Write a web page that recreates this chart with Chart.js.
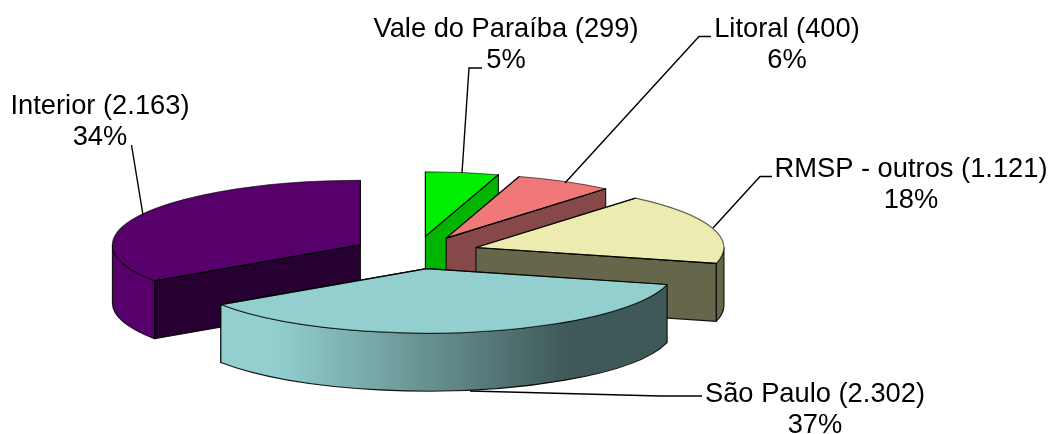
<!DOCTYPE html>
<html>
<head>
<meta charset="utf-8">
<style>html,body{margin:0;padding:0;background:#fff}#wrap{width:1049px;height:434px;position:relative}</style>
<script src="https://cdn.jsdelivr.net/npm/chart.js@4"></script>
</head>
<body>
<div id="wrap"><canvas id="c" width="1049" height="434"></canvas></div>
<script>
const categories = ['Vale do Paraíba', 'Litoral', 'RMSP - outros', 'São Paulo', 'Interior'];
const values = [299, 400, 1121, 2302, 2163];

const topColors = ['#00ee00', '#f07878', '#ecebb0', '#93cfcf', '#57006b'];
const sideColors = ['#00b400', '#864848', '#66664a', '#3f5858', '#260030'];
const rimColors = ['#00b400', '#864848', '#66664a', null, '#57006b'];
const drawOrder = [0, 1, 2, 4, 3];
const labelAnchors = [
  {x: 506, y: 37, gap: 31, leader: [[462,173],[469,68],[482,68]]},
  {x: 787, y: 37, gap: 31, leader: [[565,183],[699,36.5],[711,36.5]]},
  {x: 911, y: 177, gap: 31, leader: [[713,228],[760,176.5],[772,176.5]]},
  {x: 815, y: 402, gap: 31, leader: [[470,391],[660,396],[702,396]]},
  {x: 100, y: 114, gap: 31, leader: [[143,215],[131.5,145]]}
];
const squash = 0.26, depth = 58, explode = 63;

function drawSlice(ctx, i, arc) {
  const k = squash;
  const a0 = arc.startAngle, a1 = arc.endAngle, R = arc.outerRadius;
  const mid = (a0 + a1) / 2;
  const cx = arc.x + explode * Math.cos(mid);
  const cy = arc.y + explode * k * Math.sin(mid);
  const px = a => cx + R * Math.cos(a), py = a => cy + R * k * Math.sin(a);
  ctx.lineWidth = 1.1;
  ctx.lineJoin = 'round';
  const edge = 'rgba(0,0,0,0.9)', soft = 'rgba(0,0,0,0.6)';

  const cut = a => {
    ctx.beginPath();
    ctx.moveTo(cx, cy); ctx.lineTo(px(a), py(a));
    ctx.lineTo(px(a), py(a) + depth); ctx.lineTo(cx, cy + depth);
    ctx.closePath();
    ctx.fillStyle = sideColors[i]; ctx.fill();
    ctx.strokeStyle = edge; ctx.stroke();
  };
  const norm = a => (a % (2*Math.PI) + 2*Math.PI) % (2*Math.PI);
  if (Math.cos(a1) > 0.01) cut(a1);
  if (Math.cos(a0) < -0.01) cut(a0);
  if (Math.cos(a1) <= 0.01 && norm(a1) < Math.PI) cut(a1);

  const from = Math.max(a0, 0), to = Math.min(a1, Math.PI);
  if (a1 > 0 && a0 < Math.PI && to > from) {
    ctx.beginPath();
    ctx.ellipse(cx, cy, R, R*k, 0, from, to);
    ctx.ellipse(cx, cy + depth, R, R*k, 0, to, from, true);
    ctx.closePath();
    if (rimColors[i]) ctx.fillStyle = rimColors[i];
    else {
      const g = ctx.createLinearGradient(px(a1), 0, px(a0), 0);
      g.addColorStop(0, topColors[i]);
      g.addColorStop(0.12, topColors[i]);
      g.addColorStop(0.78, sideColors[i]);
      g.addColorStop(1, sideColors[i]);
      ctx.fillStyle = g;
    }
    ctx.fill();
    ctx.strokeStyle = edge; ctx.stroke();
  }

  ctx.beginPath();
  ctx.moveTo(cx, cy);
  ctx.ellipse(cx, cy, R, R*k, 0, a0, a1);
  ctx.closePath();
  ctx.fillStyle = topColors[i];
  ctx.fill();
  ctx.strokeStyle = soft; ctx.stroke();
  ctx.beginPath();
  ctx.moveTo(px(a0), py(a0)); ctx.lineTo(cx, cy); ctx.lineTo(px(a1), py(a1));
  ctx.strokeStyle = edge; ctx.stroke();
}

const pie3d = {
  id: 'pie3d',
  beforeDatasetsDraw(chart) {
    const ctx = chart.ctx, arcs = chart.getDatasetMeta(0).data;
    ctx.save();
    drawOrder.forEach(i => drawSlice(ctx, i, arcs[i]));
    ctx.restore();
    return false;
  },
  afterDraw(chart) {
    const ctx = chart.ctx;
    const total = values.reduce((s, v) => s + v, 0);
    ctx.save();
    labelAnchors.forEach((l, i) => {
      ctx.beginPath();
      l.leader.forEach((p, j) => j ? ctx.lineTo(p[0], p[1]) : ctx.moveTo(p[0], p[1]));
      ctx.strokeStyle = '#000'; ctx.lineWidth = 1.4; ctx.stroke();
      ctx.fillStyle = '#000';
      ctx.font = '27.3px "Liberation Sans", Arial, sans-serif';
      ctx.textAlign = 'center'; ctx.textBaseline = 'alphabetic';
      const num = String(values[i]).replace(/\B(?=(\d{3})+$)/g, '.');
      ctx.fillText(categories[i] + ' (' + num + ')', l.x, l.y);
      ctx.fillText(Math.round(values[i] / total * 100) + '%', l.x, l.y + l.gap);
    });
    ctx.restore();
  }
};

new Chart(document.getElementById('c'), {
  type: 'pie',
  data: {
    labels: categories,
    datasets: [{ data: values, backgroundColor: topColors, offset: explode, hoverOffset: 0 }]
  },
  options: {
    responsive: false,
    animation: false,
    radius: 248,
    rotation: 0,
    layout: { padding: { right: 217, top: 71 } },
    plugins: { legend: { display: false }, tooltip: { enabled: false } }
  },
  plugins: [pie3d]
});
</script>
</body>
</html>
